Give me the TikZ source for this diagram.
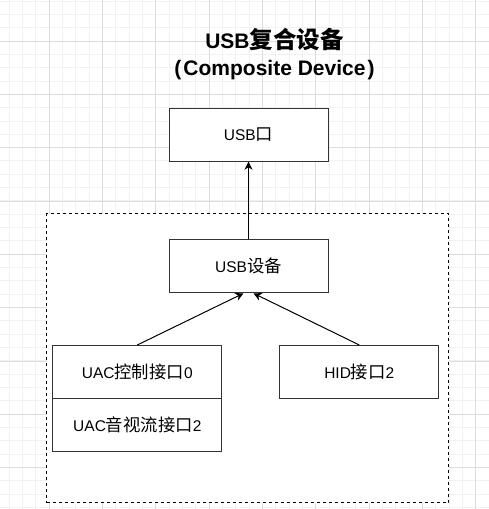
\documentclass[tikz,border=0pt]{standalone}
\usepackage{fontspec}
\setmainfont{Liberation Sans}
\newfontfamily\cjk[Scale=1.12]{Noto Sans CJK SC}
\usetikzlibrary{arrows.meta}
\definecolor{gridminor}{HTML}{F1F1F1}
\definecolor{gridmajor}{HTML}{DDDDDD}

\begin{document}
\begin{tikzpicture}[x=1pt, y=-1pt, >={Stealth[length=8pt,width=8pt,inset=2.5pt]},
	minorline/.style={draw=gridminor, line width=1pt},
	majorline/.style={draw=gridmajor, line width=1pt},
	box/.style={draw=black!80, fill=white, line width=1pt, inner sep=0pt,
		minimum width=159pt, minimum height=53pt, font=\fontsize{15.5}{18}\selectfont},
	group/.style={draw=black, fill=white, line width=1pt, dash pattern=on 3pt off 3pt,
		inner sep=0pt, minimum width=402pt, minimum height=289pt},
	link/.style={->, draw=black, line width=1pt}]
	\useasboundingbox (0,0) rectangle (489,509);
	% grid
	\fill[white] (0,0) rectangle (489,509);
	\foreach \i in {0,...,36} \draw[minorline] (9.33+13.333*\i, 0) -- (9.33+13.333*\i, 509);
	\foreach \i in {0,...,38} \draw[minorline] (0, 1+13.333*\i) -- (489, 1+13.333*\i);
	\foreach \i in {0,...,8} \draw[majorline] (49.33+53.333*\i, 0) -- (49.33+53.333*\i, 509);
	\foreach \i in {0,...,9} \draw[majorline] (0, 41+53.333*\i) -- (489, 41+53.333*\i);

	\node (title) at (274.5, 54)	[align=center, font=\fontsize{21}{26.5}\selectfont\bfseries]
		{USB{\cjk\bfseries 复合设备}\\(\hspace{2pt}Composite Device\hspace{2pt})};
	\node (grp) at (247.8, 358.3)	[group]	{};
	\node (port) at (248.5, 134.7)	[box]	{USB{\cjk 口}};
	\node (dev) at (248.5, 266.3)	[box]	{USB{\cjk 设备}};
	\node (uac0) at (137.3, 372)	[box, minimum width=169pt]	{UAC{\cjk 控制接口}0};
	\node (uac2) at (137.3, 424.6)	[box, minimum width=169pt]	{UAC{\cjk 音视流接口}2};
	\node (hid) at (359.3, 372)	[box]	{HID{\cjk 接口}2};
	\draw[link] (dev) -- (port);
	\draw[link] (uac0.north) -- ([xshift=-5pt]dev.south);
	\draw[link] (hid.north) -- ([xshift=5pt]dev.south);
\end{tikzpicture}
\end{document}
